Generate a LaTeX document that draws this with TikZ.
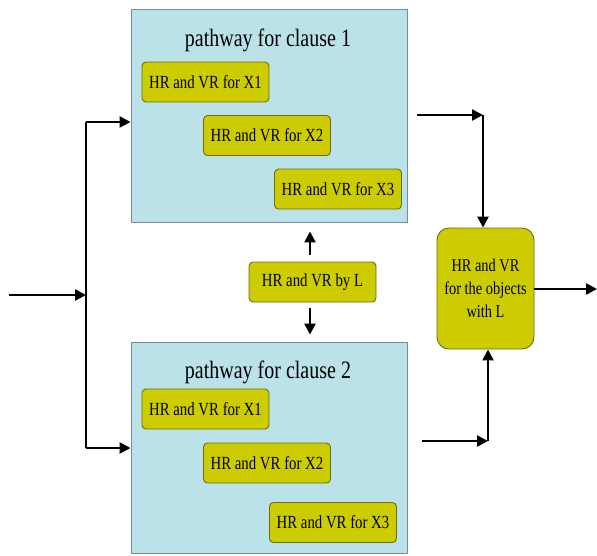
\documentclass[tikz,border=0pt]{standalone}
\usepackage{fontspec}
\setmainfont{Liberation Serif}[FakeStretch=0.8]
\usetikzlibrary{arrows.meta}
\definecolor{pathblue}{RGB}{187,226,232}
\definecolor{pathedge}{RGB}{120,140,150}
\definecolor{hryellow}{RGB}{204,204,0}
\definecolor{hredge}{RGB}{110,110,20}
\tikzset{
  pathbox/.style={draw=pathedge, fill=pathblue, line width=0.9pt, minimum width=276pt, inner sep=0pt},
  hrbox/.style={draw=hredge, fill=hryellow, line width=0.9pt, rounded corners=4pt, minimum width=127pt, minimum height=40pt, inner sep=2pt, font=\fontsize{18.5}{23}\selectfont},
  flow/.style={line width=2.4pt, -{Triangle[length=11pt,width=11pt]}},
  wire/.style={line width=2.4pt}
}

\begin{document}
\begin{tikzpicture}[x=1pt,y=-1pt]
\useasboundingbox (0,0) rectangle (597,555);
% clause pathways
\node [pathbox, minimum height=213pt] (c1) at (269,115.5) {};
\node [font=\fontsize{25}{28}\selectfont] (title1) at (268,40) {pathway for clause 1};
\node [hrbox] (a1) at (205.5,82) {HR and VR for X1};
\node [hrbox] (a2) at (267,135.5) {HR and VR for X2};
\node [hrbox] (a3) at (338,189) {HR and VR for X3};
\node [pathbox, minimum height=211pt] (c2) at (269,447.5) {};
\node [font=\fontsize{25}{28}\selectfont] (title2) at (268,372) {pathway for clause 2};
\node [hrbox] (b1) at (205.5,409) {HR and VR for X1};
\node [hrbox] (b2) at (267,463) {HR and VR for X2};
\node [hrbox] (b3) at (333,522.5) {HR and VR for X3};
% shared parts
\node [hrbox] (byL) at (312.5,282) {HR and VR by L};
\node [hrbox, minimum width=97pt, minimum height=121pt, rounded corners=12pt, align=center, font=\fontsize{18}{23}\selectfont] (objL) at (485.5,288.5) {HR and VR\\for the objects\\with L};
% input side
\coordinate (in) at (9,295);
\coordinate (split) at (86,295);
\coordinate (t1) at (86,122);
\coordinate (t2) at (86,448);
\draw [flow] (in) -- (split);
\draw [wire] (t1) -- (t2);
\draw [flow] (t1) -- (t1 -| c1.west);
\draw [flow] (t2) -- (t2 -| c2.west);
\draw [flow, shorten <=7pt, shorten >=9pt] (byL.north -| 310,0) -- (c1.south -| 310,0);
\draw [flow, shorten <=6pt, shorten >=7pt] (byL.south -| 310,0) -- (c2.north -| 310,0);
% output side
\coordinate (r1) at (417,115);
\coordinate (k1) at (483,115);
\coordinate (r2) at (422,441);
\coordinate (k2) at (488,441);
\coordinate (out) at (597,289);
\draw [flow] (r1) -- (k1);
\draw [flow] (k1) -- (k1 |- objL.north);
\draw [flow] (r2) -- (k2);
\draw [flow] (k2) -- (k2 |- objL.south);
\draw [flow] (objL.east |- out) -- (out);
\end{tikzpicture}
\end{document}
